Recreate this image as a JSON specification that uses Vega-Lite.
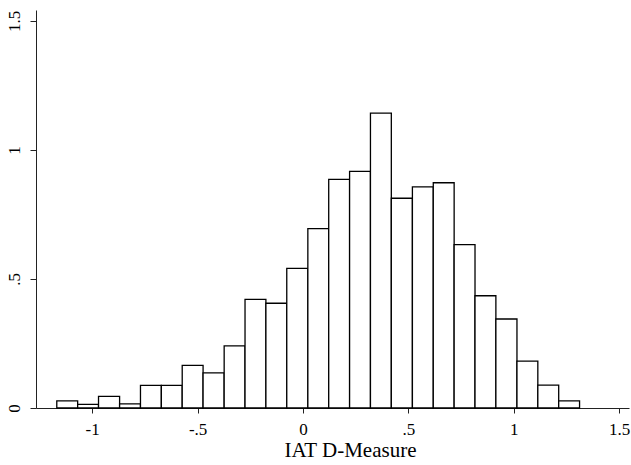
{
  "$schema": "https://vega.github.io/schema/vega-lite/v6.json",
  "autosize": "none",
  "padding": {"left": 36, "top": 10, "right": 2, "bottom": 57},
  "width": 593,
  "height": 398,
  "background": "white",
  "config": {
    "view": {"stroke": null},
    "font": "Liberation Serif",
    "axis": {
      "grid": false,
      "domainColor": "#222222",
      "domainWidth": 1,
      "tickColor": "#222222",
      "tickWidth": 1,
      "labelFont": "Liberation Serif",
      "titleFont": "Liberation Serif",
      "labelColor": "black",
      "titleColor": "black",
      "labelFontSize": 17,
      "titleFontWeight": "normal"
    }
  },
  "data": {
    "values": [
      {"bin_start": -1.168, "bin_end": -1.069, "density": 0.028},
      {"bin_start": -1.069, "bin_end": -0.970, "density": 0.014},
      {"bin_start": -0.970, "bin_end": -0.870, "density": 0.045},
      {"bin_start": -0.870, "bin_end": -0.771, "density": 0.016},
      {"bin_start": -0.771, "bin_end": -0.672, "density": 0.088},
      {"bin_start": -0.672, "bin_end": -0.573, "density": 0.088},
      {"bin_start": -0.573, "bin_end": -0.474, "density": 0.165},
      {"bin_start": -0.474, "bin_end": -0.374, "density": 0.136},
      {"bin_start": -0.374, "bin_end": -0.275, "density": 0.241},
      {"bin_start": -0.275, "bin_end": -0.176, "density": 0.421},
      {"bin_start": -0.176, "bin_end": -0.077, "density": 0.406},
      {"bin_start": -0.077, "bin_end": 0.023, "density": 0.541},
      {"bin_start": 0.023, "bin_end": 0.122, "density": 0.695},
      {"bin_start": 0.122, "bin_end": 0.221, "density": 0.886},
      {"bin_start": 0.221, "bin_end": 0.320, "density": 0.917},
      {"bin_start": 0.320, "bin_end": 0.419, "density": 1.143},
      {"bin_start": 0.419, "bin_end": 0.519, "density": 0.813},
      {"bin_start": 0.519, "bin_end": 0.618, "density": 0.857},
      {"bin_start": 0.618, "bin_end": 0.717, "density": 0.873},
      {"bin_start": 0.717, "bin_end": 0.816, "density": 0.633},
      {"bin_start": 0.816, "bin_end": 0.915, "density": 0.435},
      {"bin_start": 0.915, "bin_end": 1.015, "density": 0.345},
      {"bin_start": 1.015, "bin_end": 1.114, "density": 0.182},
      {"bin_start": 1.114, "bin_end": 1.213, "density": 0.089},
      {"bin_start": 1.213, "bin_end": 1.312, "density": 0.028}
    ]
  },
  "mark": {"type": "rect", "fill": "white", "stroke": "black", "strokeWidth": 1.3},
  "encoding": {
    "x": {
      "field": "bin_start",
      "type": "quantitative",
      "scale": {"domain": [-1.2666, 1.5465], "nice": false, "zero": false},
      "axis": {
        "title": "IAT D-Measure",
        "values": [-1, -0.5, 0, 0.5, 1, 1.5],
        "labelExpr": "(datum.value < 0 ? '-' : '') + replace(toString(abs(datum.value)), '0.', '.')",
        "tickSize": 5,
        "labelPadding": 8,
        "titleFontSize": 21,
        "titlePadding": 2,
        "titleX": 314
      }
    },
    "x2": {"field": "bin_end"},
    "y": {
      "field": "density",
      "type": "quantitative",
      "scale": {"domain": [0, 1.5426], "nice": false},
      "axis": {
        "title": null,
        "values": [0, 0.5, 1, 1.5],
        "labelExpr": "replace(toString(datum.value), '0.', '.')",
        "labelAngle": -90,
        "labelAlign": "center",
        "labelBaseline": "bottom",
        "tickSize": 6,
        "labelPadding": 7
      }
    },
    "y2": {"datum": 0}
  }
}
